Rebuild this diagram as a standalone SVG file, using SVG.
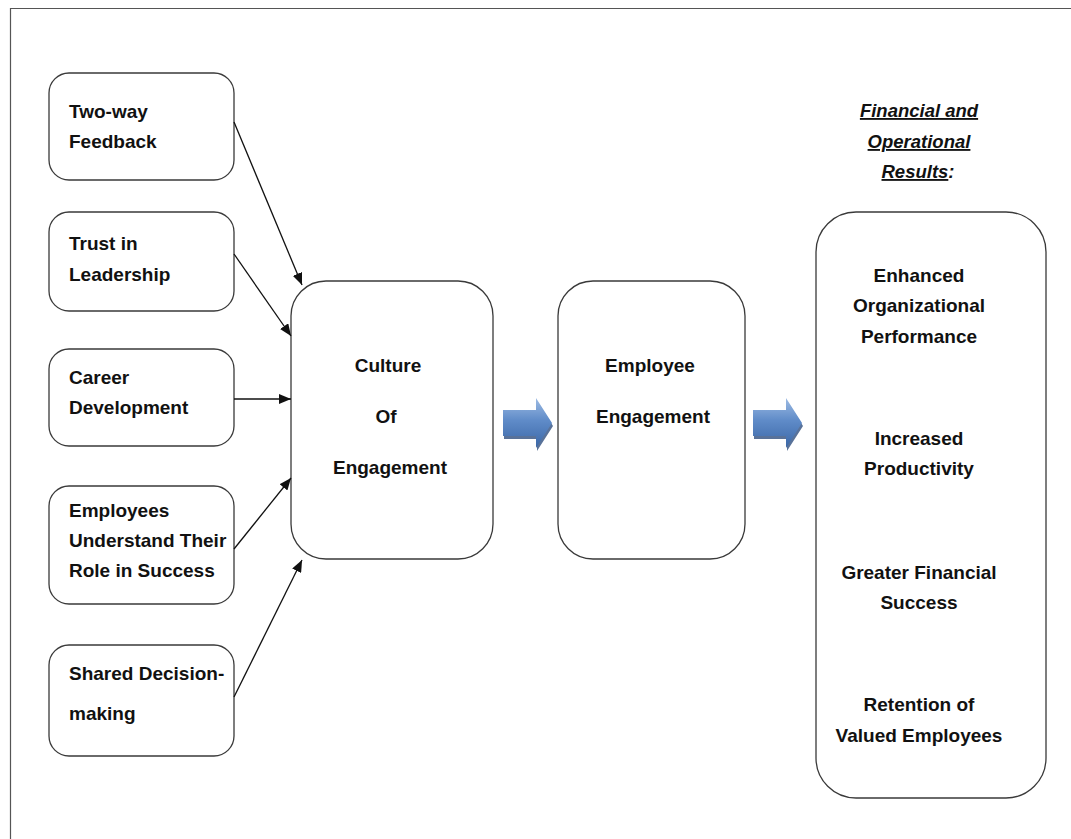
<svg xmlns="http://www.w3.org/2000/svg" width="1071" height="839" viewBox="0 0 1071 839">
  <style>
    .box { fill: #ffffff; stroke: #3a3a3a; stroke-width: 1.3; }
    .lbl { font-family: "Liberation Sans", Arial, sans-serif; font-weight: bold; font-size: 19px; fill: #111111; }
    .mid { text-anchor: middle; }
    .head { font-family: "Liberation Sans", Arial, sans-serif; font-weight: bold; font-style: italic; font-size: 18.5px; fill: #111111; text-anchor: middle; }
    .link { stroke: #111111; stroke-width: 1.3; fill: none; marker-end: url(#tip); }
  </style>
  <defs>
    <marker id="tip" viewBox="0 0 12 10" refX="12" refY="5" markerWidth="12" markerHeight="10" markerUnits="userSpaceOnUse" orient="auto">
      <path d="M0,0 L12,5 L0,10 z" fill="#111111"/>
    </marker>
    <linearGradient id="blue" x1="0" y1="0" x2="0" y2="1">
      <stop offset="0" stop-color="#9dbbe3"/>
      <stop offset="0.45" stop-color="#5f8bc8"/>
      <stop offset="1" stop-color="#3b67a6"/>
    </linearGradient>
    <path id="fat" d="M0,12 L33,12 L33,0 L49,25 L33,50 L33,38 L0,38 z"/>
  </defs>

  <rect width="1071" height="839" fill="#ffffff"/>
  <!-- page frame -->
  <path d="M10.5,839 L10.5,8.5 L1071,8.5" fill="none" stroke="#555555" stroke-width="1.2"/>

  <!-- inputs -->
  <g id="n-feedback">
    <rect class="box" x="49" y="73" width="185" height="107" rx="20"/>
    <text class="lbl" x="69" y="118">Two-way</text>
    <text class="lbl" x="69" y="148">Feedback</text>
  </g>
  <g id="n-trust">
    <rect class="box" x="49" y="212" width="185" height="99" rx="20"/>
    <text class="lbl" x="69" y="250">Trust in</text>
    <text class="lbl" x="69" y="281">Leadership</text>
  </g>
  <g id="n-career">
    <rect class="box" x="49" y="349" width="185" height="97" rx="20"/>
    <text class="lbl" x="69" y="384">Career</text>
    <text class="lbl" x="69" y="414">Development</text>
  </g>
  <g id="n-role">
    <rect class="box" x="49" y="486" width="185" height="118" rx="20"/>
    <text class="lbl" x="69" y="517">Employees</text>
    <text class="lbl" x="69" y="547">Understand Their</text>
    <text class="lbl" x="69" y="577">Role in Success</text>
  </g>
  <g id="n-decision">
    <rect class="box" x="49" y="645" width="185" height="111" rx="20"/>
    <text class="lbl" x="69" y="680">Shared Decision-</text>
    <text class="lbl" x="69" y="720">making</text>
  </g>

  <!-- centre -->
  <g id="n-culture">
    <rect class="box" x="291" y="281" width="202" height="278" rx="35"/>
    <text class="lbl mid" x="388" y="372">Culture</text>
    <text class="lbl mid" x="386" y="423">Of</text>
    <text class="lbl mid" x="390" y="474">Engagement</text>
  </g>
  <g id="n-engagement">
    <rect class="box" x="558" y="281" width="187" height="278" rx="35"/>
    <text class="lbl mid" x="650" y="372">Employee</text>
    <text class="lbl mid" x="653" y="423">Engagement</text>
  </g>

  <!-- results -->
  <g id="n-results-title">
    <text class="head" x="919" y="117" text-decoration="underline">Financial  and</text>
    <text class="head" x="919" y="148" text-decoration="underline">Operational</text>
    <text class="head" x="918" y="178"><tspan text-decoration="underline">Results</tspan>:</text>
  </g>
  <g id="n-results">
    <rect class="box" x="816" y="212" width="230" height="586" rx="40"/>
    <text class="lbl mid" x="919" y="282">Enhanced</text>
    <text class="lbl mid" x="919" y="312">Organizational</text>
    <text class="lbl mid" x="919" y="343">Performance</text>
    <text class="lbl mid" x="919" y="445">Increased</text>
    <text class="lbl mid" x="919" y="475">Productivity</text>
    <text class="lbl mid" x="919" y="579">Greater Financial</text>
    <text class="lbl mid" x="919" y="609">Success</text>
    <text class="lbl mid" x="919" y="711">Retention of</text>
    <text class="lbl mid" x="919" y="742">Valued Employees</text>
  </g>

  <!-- connectors -->
  <g id="connectors">
    <line class="link" x1="234" y1="122" x2="302" y2="285"/>
    <line class="link" x1="234" y1="254" x2="291" y2="336"/>
    <line class="link" x1="234" y1="399" x2="291" y2="399"/>
    <line class="link" x1="234" y1="549" x2="291" y2="478"/>
    <line class="link" x1="234" y1="697" x2="302" y2="560"/>
    <g transform="translate(503,398)">
      <use href="#fat" transform="translate(1,3)" fill="#2f4f80" opacity="0.8"/>
      <use href="#fat" fill="url(#blue)"/>
    </g>
    <g transform="translate(753,398)">
      <use href="#fat" transform="translate(1,3)" fill="#2f4f80" opacity="0.8"/>
      <use href="#fat" fill="url(#blue)"/>
    </g>
  </g>
</svg>
